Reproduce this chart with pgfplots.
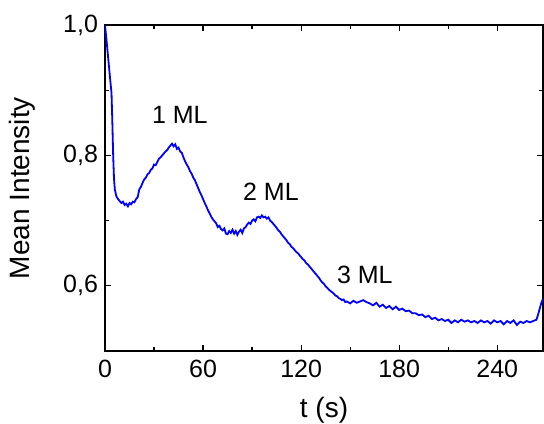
\documentclass[border=0pt]{standalone}
\usepackage{fontspec}
\setmainfont{Liberation Sans}
\usepackage{pgfplots}
\pgfplotsset{compat=1.18}
\begin{document}
\begin{tikzpicture}
\useasboundingbox (-52.5pt,-36pt) rectangle (219.5pt,175.5pt);
\begin{axis}[
  at={(0,0)}, anchor=south west,
  scale only axis, width=219pt, height=163pt,
  xmin=0, xmax=268, ymin=0.5, ymax=1.0,
  xtick={0,60,120,180,240}, minor xtick={30,90,150,210},
  ytick={0.6,0.8,1.0}, minor ytick={0.5,0.7,0.9},
  tick align=inside,
  major tick length=3.2pt, minor tick length=2pt,
  axis line style={line width=0.6pt},
  every tick/.style={line width=0.6pt, black},
  /pgf/number format/.cd, use comma, fixed, fixed zerofill, precision=1, assume math mode=true,
  /pgfplots/.cd,
  xticklabel style={/pgf/number format/precision=0, /pgf/number format/fixed zerofill=false, font=\fontsize{12.5}{14}\selectfont, yshift=-1pt},
  yticklabel style={font=\fontsize{12.5}{14}\selectfont},
  xlabel={t (s)}, ylabel={Mean Intensity},
  every axis x label/.style={at={(axis description cs:0.5,-0.181)}, anchor=center, font=\fontsize{14}{16}\selectfont},
  every axis y label/.style={at={(axis description cs:-0.19,0.5)}, rotate=90, anchor=center, font=\fontsize{14}{16}\selectfont},
  clip=true,
]
\addplot[blue, line width=0.9pt] coordinates {
(0,1.000) (1,0.975) (2,0.948) (3,0.921) (4,0.895) (4.5,0.85) (5,0.800) (5.5,0.765) (6,0.748)
(7,0.737) (8,0.733) (9,0.730) (10,0.727) (11,0.729) (12,0.724) (13,0.726) (14,0.722) (15,0.727)
(16,0.725) (17,0.729) (18,0.728) (19,0.733) (20,0.736) (21,0.748) (22,0.752) (23,0.758) (24,0.763)
(25,0.766) (26,0.771) (27,0.773) (28,0.778) (29,0.780) (30,0.786) (31,0.785) (32,0.790) (33,0.795)
(34,0.797) (35,0.800) (36,0.803) (37,0.806) (38,0.808) (39,0.812) (40,0.815) (41,0.818) (42,0.814)
(43,0.817) (44,0.810) (45,0.812) (46,0.806) (47,0.804) (48,0.797) (49,0.791) (50,0.786) (51,0.782)
(52,0.776) (53,0.772) (54,0.766) (55,0.762) (56,0.756) (57,0.750) (58,0.744) (59,0.739) (60,0.733)
(61,0.727) (62,0.722) (63,0.716) (64,0.711) (65,0.706) (66,0.702) (67,0.699) (68,0.696) (69,0.690)
(70,0.692) (71,0.687) (72,0.685) (73,0.688) (74,0.680) (75,0.679) (76,0.684) (77,0.681) (78,0.686)
(79,0.680) (80,0.684) (81,0.678) (82,0.683) (83,0.686) (84,0.681) (85,0.688) (86,0.690) (87,0.694)
(88,0.697) (89,0.695) (90,0.700) (91,0.702) (92,0.699) (93,0.705) (94,0.706) (95,0.704) (96,0.708)
(97,0.705) (98,0.706) (99,0.703) (100,0.705) (101,0.700) (102,0.698) (103,0.695) (104,0.692)
(105,0.689) (106,0.685) (107,0.683) (108,0.679) (109,0.676) (110,0.673) (111,0.670) (112,0.666)
(113,0.664) (114,0.660) (115,0.658) (116,0.655) (117,0.652) (118,0.650) (119,0.647) (120,0.644)
(121,0.641) (122,0.639) (123,0.635) (124,0.633) (125,0.630) (126,0.627) (127,0.624) (128,0.621)
(129,0.618) (130,0.615) (131,0.612) (132,0.608) (133,0.605) (134,0.603) (135,0.599) (136,0.597)
(137,0.594) (138,0.592) (139,0.590) (140,0.588) (141,0.585) (142,0.584) (143,0.581) (144,0.580)
(145,0.578) (146,0.579) (147,0.575) (148,0.576) (150,0.573) (152,0.577) (154,0.574) (156,0.576)
(158,0.578) (160,0.575) (162,0.573) (164,0.570) (166,0.574) (168,0.568) (170,0.571) (172,0.566)
(174,0.569) (176,0.564) (178,0.568) (180,0.563) (182,0.565) (184,0.561) (186,0.562) (188,0.558)
(190,0.558) (192,0.555) (194,0.556) (196,0.552) (198,0.554) (200,0.549) (202,0.551) (204,0.547)
(206,0.549) (208,0.546) (210,0.548) (212,0.543) (214,0.547) (216,0.544) (218,0.548) (220,0.545)
(222,0.547) (224,0.544) (226,0.546) (228,0.543) (230,0.547) (232,0.544) (234,0.546) (236,0.542)
(238,0.547) (240,0.544) (242,0.546) (244,0.541) (246,0.546) (248,0.543) (250,0.547) (252,0.540)
(254,0.545) (256,0.543) (258,0.546) (260,0.544) (262,0.546) (264,0.548) (265,0.556) (266,0.565)
(267,0.574) (268,0.580)
};
\node[font=\fontsize{12.5}{14}\selectfont] at (axis cs:45.8,0.862) {1 ML};
\node[font=\fontsize{12.5}{14}\selectfont] at (axis cs:101.5,0.744) {2 ML};
\node[font=\fontsize{12.5}{14}\selectfont] at (axis cs:159,0.617) {3 ML};
\end{axis}
\end{tikzpicture}
\end{document}
